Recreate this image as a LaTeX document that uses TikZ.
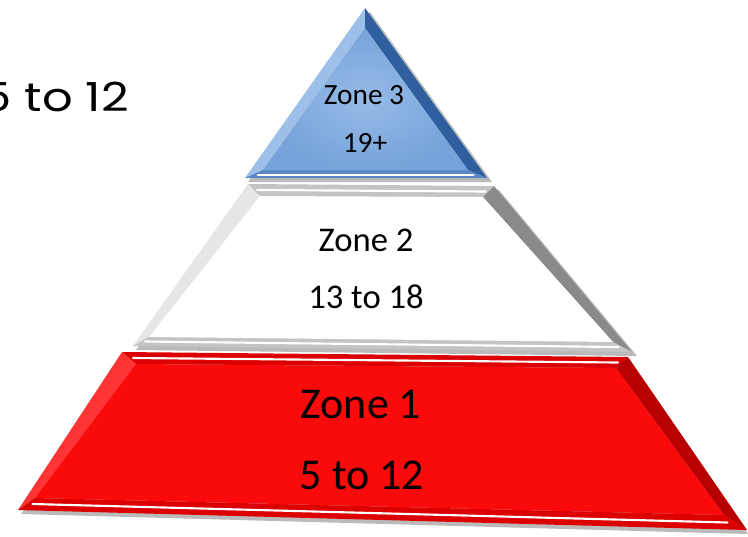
\documentclass[tikz,border=0pt]{standalone}
\usepackage{fontspec}
\usetikzlibrary{calc}
\setmainfont{Carlito}
\newfontfamily\techfont{Poppins}
\definecolor{bluemain}{HTML}{77A3DA}
\definecolor{bluelight}{HTML}{9DC0EA}
\definecolor{bluedark}{HTML}{2F5F9E}
\definecolor{bluemid}{HTML}{5A88C4}
\definecolor{redmain}{HTML}{FA0A0A}
\definecolor{redlight}{HTML}{FF3434}
\definecolor{reddark}{HTML}{B80000}
\definecolor{redmid}{HTML}{DC0000}
\definecolor{graylight}{HTML}{E6E6E6}
\definecolor{graymid}{HTML}{C4C4C4}
\definecolor{graydark}{HTML}{8A8A8A}
\tikzset{
  shadowshape/.style={fill=black!60, opacity=0.45},
  hilite/.style={draw=white, line width=1.6pt, line cap=round},
  zonetext/.style={inner sep=0pt, text=black},
}
\begin{document}
\begin{tikzpicture}[x=0.75pt,y=-0.75pt]
\useasboundingbox (0,0) rectangle (748,536);
\fill[white] (0,0) rectangle (748,536);

% ---------- coordinates ----------
% Zone 3 (blue triangle)
\coordinate (bo1) at (365,8);
\coordinate (bo2) at (245,178);
\coordinate (bo3) at (487,178);
\coordinate (bi1) at (365,28);
\coordinate (bi2) at (263,170);
\coordinate (bi3) at (468,170);
% Zone 2 (white trapezoid)
\coordinate (wo1) at (248,184);
\coordinate (wo2) at (494,186);
\coordinate (wo3) at (632,352);
\coordinate (wo4) at (133,346);
\coordinate (wi1) at (260,196);
\coordinate (wi2) at (483,197);
\coordinate (wi3) at (613,342);
\coordinate (wi4) at (149,337);
% Zone 1 (red trapezoid)
\coordinate (ro1) at (122,352);
\coordinate (ro2) at (628,357);
\coordinate (ro3) at (747,530);
\coordinate (ro4) at (18,510);
\coordinate (ri1) at (136,364);
\coordinate (ri2) at (616,368);
\coordinate (ri3) at (724,515);
\coordinate (ri4) at (35,498);

% ---------- shadows ----------
\fill[shadowshape] ([shift={(5,4)}]bo1) -- ([shift={(5,4)}]bo3) -- ([shift={(3,4)}]bo2) -- cycle;
\fill[shadowshape] ([shift={(5,4)}]wo1) -- ([shift={(5,4)}]wo2) -- ([shift={(5,4)}]wo3) -- ([shift={(3,4)}]wo4) -- cycle;
\fill[shadowshape] ([shift={(5,4)}]ro1) -- ([shift={(1,2)}]ro2) -- ([shift={(1,4)}]ro3) -- ([shift={(3,4)}]ro4) -- cycle;

% ---------- Zone 3 ----------
\fill[bluelight] (bo1) -- (bo2) -- (bi2) -- (bi1) -- cycle;
\fill[bluedark] (bo1) -- (bo3) -- (bi3) -- (bi1) -- cycle;
\fill[bluemid] (bo2) -- (bo3) -- (bi3) -- (bi2) -- cycle;
\shade[inner color=bluelight!80!bluemain, outer color=bluemain] (bi1) -- (bi2) -- (bi3) -- cycle;
\draw[hilite] ($(bo2)!0.5!(bi2)+(4,1)$) -- ($(bo3)!0.5!(bi3)+(-4,1)$);

% ---------- Zone 2 ----------
\fill[graymid] (wo1) -- (wo2) -- (wi2) -- (wi1) -- cycle;
\fill[graylight] (wo1) -- (wo4) -- (wi4) -- (wi1) -- cycle;
\fill[graydark] (wo2) -- (wo3) -- (wi3) -- (wi2) -- cycle;
\fill[graymid] (wo4) -- (wo3) -- (wi3) -- (wi4) -- cycle;
\fill[white] (wi1) -- (wi2) -- (wi3) -- (wi4) -- cycle;
\draw[hilite] ($(wo1)!0.5!(wi1)+(3,0)$) -- ($(wo2)!0.5!(wi2)+(-3,0)$);
\draw[hilite] ($(wo4)!0.5!(wi4)+(4,0)$) -- ($(wo3)!0.5!(wi3)+(-4,0)$);

% ---------- Zone 1 ----------
\fill[redmid] (ro1) -- (ro2) -- (ri2) -- (ri1) -- cycle;
\fill[redlight] (ro1) -- (ro4) -- (ri4) -- (ri1) -- cycle;
\fill[reddark] (ro2) -- (ro3) -- (ri3) -- (ri2) -- cycle;
\fill[redmid] (ro4) -- (ro3) -- (ri3) -- (ri4) -- cycle;
\fill[redmain] (ri1) -- (ri2) -- (ri3) -- (ri4) -- cycle;
\draw[hilite] ($(ro1)!0.5!(ri1)+(4,0)$) -- ($(ro2)!0.5!(ri2)+(-4,0)$);
\draw[hilite] ($(ro4)!0.5!(ri4)+(6,0)$) -- ($(ro3)!0.5!(ri3)+(-8,0)$);

% ---------- texts ----------
\node[zonetext, font=\fontsize{22}{26}\selectfont] (z3a) at (364,95) {Zone 3};
\node[zonetext, font=\fontsize{22}{26}\selectfont] (z3b) at (365,143) {19+};
\node[zonetext, font=\fontsize{26}{30}\selectfont] (z2a) at (366,240) {Zone 2};
\node[zonetext, font=\fontsize{26}{30}\selectfont] (z2b) at (366,297) {13 to 18};
\node[zonetext, font=\fontsize{33}{38}\selectfont] (z1a) at (361,404) {Zone 1};
\node[zonetext, font=\fontsize{33}{38}\selectfont] (z1b) at (362,475) {5 to 12};
\node[zonetext, anchor=base east, xscale=1.2, font=\techfont\fontsize{30}{34}\selectfont] (side) at (129,111) {5 to 12};
\end{tikzpicture}
\end{document}
